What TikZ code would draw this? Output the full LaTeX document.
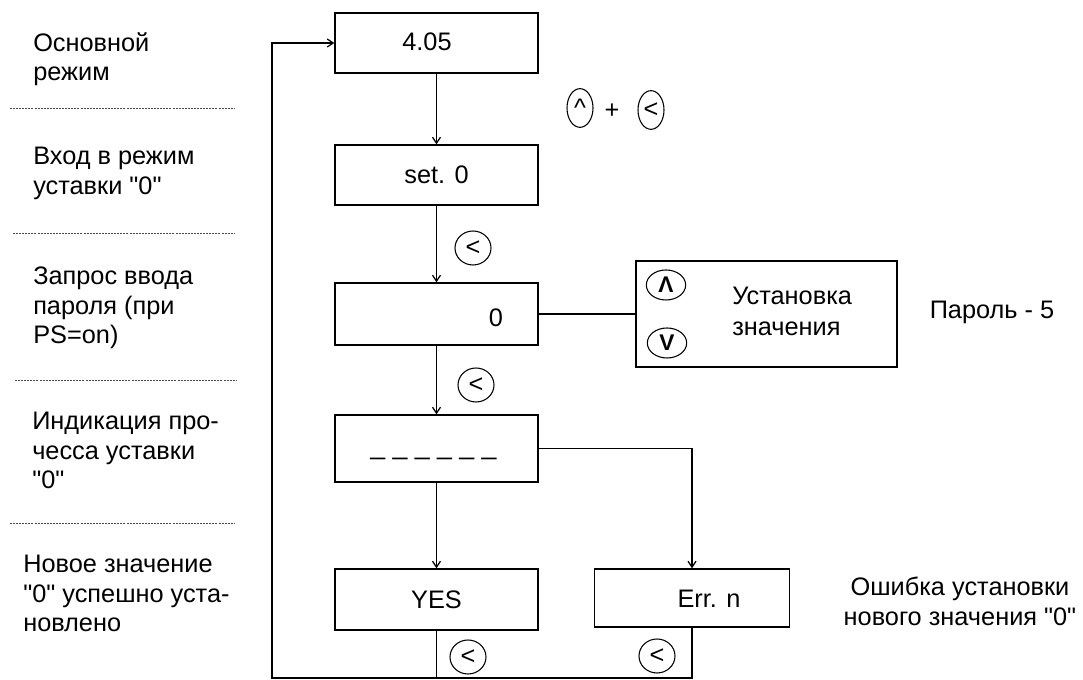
\documentclass[tikz,border=0pt]{standalone}
\usepackage{fontspec}
\setmainfont{Liberation Sans}[Ligatures=TeXOff]
\usetikzlibrary{arrows.meta,shapes.geometric,positioning}

\tikzset{
  screen/.style={draw, line width=1.1pt, inner sep=0pt, minimum width=152.25pt, minimum height=45pt},
  key/.style={draw, ellipse, line width=0.8pt, inner sep=0pt, minimum width=27pt, minimum height=25.5pt},
  tallkey/.style={key, minimum width=19.5pt, minimum height=29pt},
  widekey/.style={key, minimum width=29.5pt, minimum height=22.5pt, font=\bfseries\fontsize{17}{17}\selectfont},
  caption/.style={align=left, inner sep=0pt, anchor=north west},
  flow/.style={line width=0.9pt},
  sepline/.style={line width=0.6pt, gray!60!black, dash pattern=on 1.5pt off 0.8pt},
}

\newcommand{\lblfont}{\fontsize{19}{22}\selectfont}

\begin{document}
\begin{tikzpicture}[x=0.75pt, y=-0.75pt, >={Straight Barb[length=4.5pt,width=6pt]}, font=\lblfont]
\useasboundingbox (0,0) rectangle (1083,680);

% left column
\node[caption] (mode) at (33,32) {Основной\\режим};
\node[caption] (enter) at (33,147) {Вход в режим\\уставки "0"};
\node[caption] (ask) at (33,267) {Запрос ввода\\пароля (при\\PS=on)};
\node[caption] (ind) at (32,412) {Индикация про-\\чесса уставки\\"0"};
\node[caption] (done) at (23,555) {Новое значение\\"0" успешно уста-\\новлено};

\draw[sepline] (10,108) -- (235,108);
\draw[sepline] (13,233) -- (235,233);
\draw[sepline] (15,380) -- (236,380);
\draw[sepline] (10,523) -- (235,523);

% screens
\node[screen] (main) at (436.5,43) {};
\node (maint) at (427,42) {4.05};
\node[screen] (setz) at (436.5,175) {set. 0};
\node[screen, minimum height=46.5pt] (pass) at (436.5,314) {};
\node (passt) at (496,318) {0};
\node[screen, minimum height=50.25pt] (proc) at (436.5,448.5) {};
\node[anchor=base, font=\fontsize{20}{20}\selectfont] (proct) at (433.5,455) {\_ \_ \_ \_ \_ \_};
\node[screen, minimum height=45.75pt] (yes) at (436.5,599.5) {YES};
\node[screen, minimum width=146.25pt, minimum height=43.5pt] (err) at (692,598) {};
\node (errt) at (709,599) {Err. n};
\node[screen, minimum width=195.75pt, minimum height=79.5pt] (setv) at (766.5,314) {};

% keys
\node[tallkey] (kup) at (580,108) {\textasciicircum};
\node (plus) at (612,111) {+};
\node[tallkey] (kleft) at (651,110) {<};
\node[key] (k1) at (473,248) {<};
\node[key] (k2) at (476,385) {<};
\node[key] (k3) at (468,657) {<};
\node[key] (k4) at (657,656) {<};
\node[widekey] (vup) at (666,285) {Λ};
\node[widekey] (vdown) at (667,343) {V};

% notes
\node[caption, font=\fontsize{19}{23}\selectfont] (setvt) at (732,287) {Установка\\значения};
\node (pw) at (992,312) {Пароль - 5};
\node[align=center, anchor=north, inner sep=0pt] (errn) at (960,577) {Ошибка установки\\нового значения "0"};

% connectors
\draw[flow,->] (main) -- (setz);
\draw[flow,->] (setz) -- (pass);
\draw[flow,->] (pass) -- (proc);
\draw[flow,->] (proc) -- (yes);
\draw[flow] (pass) -- (setv);
\draw[flow,->] (proc.east) -| (err.north);
\coordinate (back) at (272,678);
\draw[flow] (yes.south) -- (yes.south |- back);
\draw[flow,->] (err.south) -- (err.south |- back) -- (back) |- (main.west);
\end{tikzpicture}
\end{document}
